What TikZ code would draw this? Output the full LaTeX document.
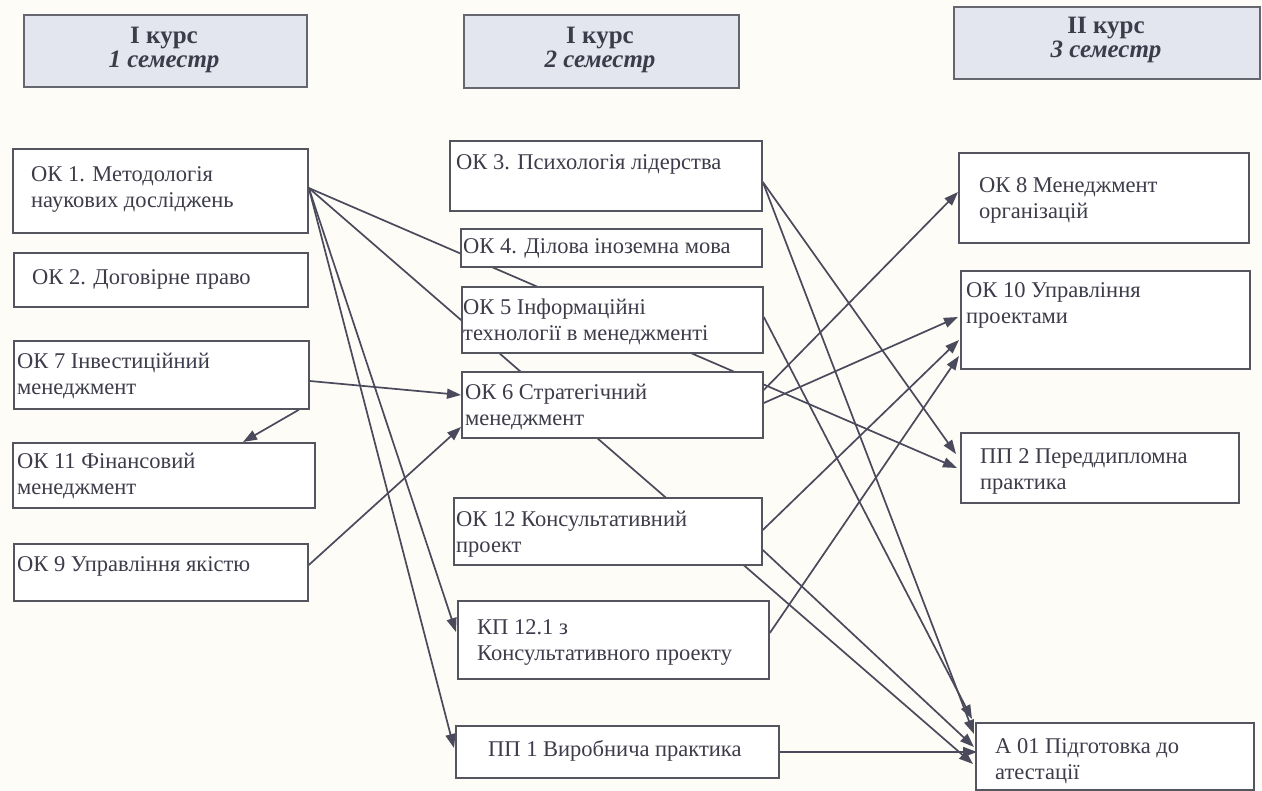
\documentclass[tikz,border=0pt]{standalone}
\usepackage{fontspec}
\setmainfont{Liberation Serif}
\usetikzlibrary{arrows.meta,calc}
\pgfdeclarelayer{bg}
\pgfsetlayers{bg,main}
\definecolor{paper}{HTML}{FDFCF6}
\definecolor{boxc}{HTML}{55555F}
\definecolor{linec}{HTML}{4A4A5C}
\definecolor{txtc}{HTML}{3C3C4A}
\definecolor{headfill}{HTML}{E4E6EF}
\definecolor{headline}{HTML}{66666E}
\newcommand\bfnt{\fontsize{22.5}{26}\selectfont}
\newcommand\hfnt{\fontsize{25}{24}\selectfont}
\begin{document}
\begin{tikzpicture}[x=1pt,y=-1pt,
  box/.style={draw=boxc, fill=white, line width=1.8pt, anchor=north west, inner sep=0pt},
  headbox/.style={draw=headline, fill=headfill, line width=2.4pt, anchor=north west, inner sep=0pt},
  txt/.style={anchor=west, align=left, inner sep=0pt, font=\bfnt, text=txtc},
  htxt/.style={anchor=center, align=center, inner sep=0pt, font=\hfnt, text=txtc},
  conn/.style={draw=linec, line width=1.7pt, -{Triangle[length=14pt,width=10pt]}}]
\begin{pgfonlayer}{bg}
\fill[paper] (0,0) rectangle (1262,791);
\end{pgfonlayer}
\useasboundingbox (0,0) rectangle (1262,791);

% headers
\node[headbox, minimum width=283pt, minimum height=72pt] (h1) at (23,14) {};
\node[headbox, minimum width=275pt, minimum height=73pt] (h2) at (463,14) {};
\node[headbox, minimum width=306pt, minimum height=72pt] (h3) at (953,6) {};
\node[htxt] (h1t) at (164,50) {\textbf{I курс}\\\textbf{\textit{1 семестр}}};
\node[htxt] (h2t) at (600,50) {\textbf{I курс}\\\textbf{\textit{2 семестр}}};
\node[htxt] (h3t) at (1106,40) {\textbf{II курс}\\\textbf{\textit{3 семестр}}};

% column 1
\node[box, minimum width=295pt, minimum height=84pt] (ok1) at (12,148) {};
\node[box, minimum width=294pt, minimum height=54pt] (ok2) at (13,252) {};
\node[box, minimum width=295pt, minimum height=68pt] (ok7) at (13,340) {};
\node[box, minimum width=302pt, minimum height=65pt] (ok11) at (12,442) {};
\node[box, minimum width=294pt, minimum height=57pt] (ok9) at (13,543) {};
% column 2
\node[box, minimum width=312pt, minimum height=70pt] (ok3) at (449,140) {};
\node[box, minimum width=301pt, minimum height=38pt] (ok4) at (460,228) {};
\node[box, minimum width=301pt, minimum height=66pt] (ok5) at (461,286) {};
\node[box, minimum width=301pt, minimum height=66pt] (ok6) at (461,371) {};
\node[box, minimum width=308pt, minimum height=67pt] (ok12) at (453,497) {};
\node[box, minimum width=311pt, minimum height=78pt] (kp) at (457,600) {};
\node[box, minimum width=323pt, minimum height=52pt] (pp1) at (455,725) {};
% column 3
\node[box, minimum width=290pt, minimum height=90pt] (ok8) at (958,152) {};
\node[box, minimum width=289pt, minimum height=98pt] (ok10) at (960,270) {};
\node[box, minimum width=278pt, minimum height=70pt] (pp2) at (960,432) {};
\node[box, minimum width=278pt, minimum height=67pt] (a01) at (975,722) {};

% texts
\node[txt] (ok1t) at (31,189) {ОК 1. Методологія\\наукових досліджень};
\node[txt] (ok2t) at (32,279) {ОК 2. Договірне право};
\node[txt] (ok7t) at (17,376) {ОК 7 Інвестиційний\\менеджмент};
\node[txt] (ok11t) at (17,476) {ОК 11 Фінансовий\\менеджмент};
\node[txt] (ok9t) at (17,566) {ОК 9 Управління якістю};
\node[txt] (ok3t) at (456,164) {ОК 3. Психологія лідерства};
\node[txt] (ok4t) at (463,248) {ОК 4. Ділова іноземна мова};
\node[txt] (ok5t) at (463,322) {ОК 5 Інформаційні\\технології в менеджменті};
\node[txt] (ok6t) at (465,407) {ОК 6 Стратегічний\\менеджмент};
\node[txt] (ok12t) at (456,534) {ОК 12 Консультативний\\проект};
\node[txt] (kpt) at (477,642) {КП 12.1 з\\Консультативного проекту};
\node[txt] (pp1t) at (488,751) {ПП 1 Виробнича практика};
\node[txt] (ok8t) at (979,200) {ОК 8 Менеджмент\\організацій};
\node[txt] (ok10t) at (966,305) {ОК 10 Управління\\проектами};
\node[txt] (pp2t) at (980,471) {ПП 2 Переддипломна\\практика};
\node[txt] (a01t) at (995,761) {А 01 Підготовка до\\атестації};

% connectors
\begin{pgfonlayer}{bg}
\coordinate (s1) at ($(ok1.north east)+(0,40)$);
\draw[conn] (s1) -- ($(pp2.north west)+(-3,36)$);
\draw[conn] (s1) -- ($(a01.north west)+(-2,42)$);
\draw[conn] (s1) -- ($(kp.north west)+(-1,32)$);
\draw[conn] (s1) -- ($(pp1.north west)+(-1,23)$);
\draw[conn] ($(ok7.north east)+(0,41)$) -- ($(ok6.north west)+(0,24)$);
\draw[conn] ($(ok7.south east)+(-11,0)$) -- ($(ok11.north west)+(231,0)$);
\draw[conn] ($(ok9.north east)+(0,22)$) -- ($(ok6.north west)+(0,56)$);
\draw[conn] ($(ok6.north east)+(0,19)$) -- ($(ok8.north west)+(0,40)$);
\draw[conn] ($(ok6.north east)+(0,32)$) -- ($(ok10.north west)+(-2,47)$);
\draw[conn] ($(ok12.north east)+(0,33)$) -- ($(ok10.north west)+(-1,70)$);
\draw[conn] ($(kp.north east)+(0,33)$) -- ($(ok10.north west)+(-1,86)$);
\draw[conn] ($(ok12.north east)+(0,53)$) -- ($(a01.north west)+(-1,25)$);
\draw[conn] ($(pp1.north east)+(0,27)$) -- ($(a01.north west)+(2,30)$);
\coordinate (s3) at ($(ok3.north east)+(0,42)$);
\draw[conn] (s3) -- ($(pp2.north west)+(-4,22)$);
\draw[conn] (s3) -- ($(a01.north west)+(-1,12)$);
\draw[conn] ($(ok5.north east)+(0,31)$) -- ($(a01.north west)+(-3,-3)$);
\end{pgfonlayer}
\end{tikzpicture}
\end{document}
